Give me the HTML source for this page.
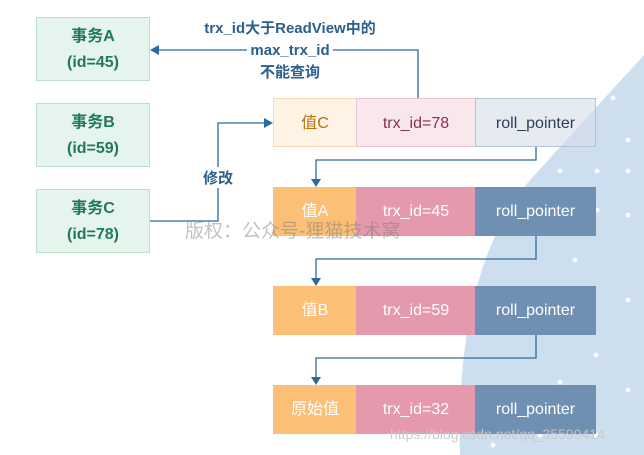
<!DOCTYPE html>
<html><head><style>
body{margin:0;width:644px;height:455px;background:#fff;position:relative;overflow:hidden;font-family:"Liberation Sans","Noto Sans CJK SC",sans-serif}
.t{position:absolute;left:36px;width:114px;height:64px;background:#e6f4ee;border:1px solid #b9e0cd;box-sizing:border-box;color:#1f7a5a;font-size:16px;font-weight:bold;text-align:center;line-height:26px;padding-top:6px}
.c{position:absolute;height:49px;line-height:49px;text-align:center;font-size:16px;box-sizing:border-box}
.l{position:absolute;color:#2b5f8c;font-size:15px;font-weight:bold;text-align:center}
</style></head><body>
<svg width="644" height="455" style="position:absolute;left:0;top:0">
<path d="M644,55 L530,180 Q455,270 460,455 L644,455 Z" fill="#cddfee"/>
<g fill="#fff" opacity="0.9">
<circle cx="613" cy="83" r="2.5"/><circle cx="613" cy="98" r="2.5"/><circle cx="628" cy="140" r="2.5"/><circle cx="560" cy="171" r="2.5"/><circle cx="597" cy="171" r="2.5"/><circle cx="628" cy="171" r="2.5"/><circle cx="597" cy="210" r="2.5"/><circle cx="628" cy="215" r="2.5"/><circle cx="575" cy="260" r="2.5"/><circle cx="628" cy="300" r="2.5"/><circle cx="596" cy="355" r="2.5"/><circle cx="560" cy="382" r="2.5"/><circle cx="628" cy="390" r="2.5"/><circle cx="596" cy="435" r="2.5"/><circle cx="493" cy="445" r="2.5"/><circle cx="540" cy="435" r="2.5"/>
</g>
<g stroke="#2b6aa0" stroke-width="1.3" fill="none">
<polyline points="418,98 418,50 156,50"/>
<polyline points="150,221 218,221 218,123 266,123"/>
<polyline points="536,147 536,160 316,160 316,180"/>
<polyline points="536,236 536,259 316,259 316,280"/>
<polyline points="536,335 536,358 316,358 316,379"/>
</g>
<g fill="#2b6aa0">
<polygon points="150,50 159,45 159,55"/>
<polygon points="273,123 264,118 264,128"/>
<polygon points="316,187 311,179 321,179"/>
<polygon points="316,286 311,278 321,278"/>
<polygon points="316,385 311,377 321,377"/>
</g>
</svg>
<div class="t" style="top:17px">事务A<br>(id=45)</div>
<div class="t" style="top:103px">事务B<br>(id=59)</div>
<div class="t" style="top:189px">事务C<br>(id=78)</div>
<div class="l" style="left:190px;top:18px;width:200px;line-height:22px"><span style="background:#fff">trx_id大于ReadView中的</span><br><span style="background:#fff;padding:0 3px">max_trx_id</span><br><span style="background:#fff">不能查询</span></div>
<div class="l" style="left:200px;top:167px;width:36px;background:#fff">修改</div>
<div class="c" style="left:273px;top:98px;width:84px;background:#fff3e6;border:1px solid #fcd9b0;color:#b5730a">值C</div>
<div class="c" style="left:356px;top:98px;width:120px;background:#f9e7ee;border:1px solid #efc3d0;color:#8a3050">trx_id=78</div>
<div class="c" style="left:475px;top:98px;width:121px;background:rgba(214,222,233,0.6);border:1px solid #b5c3d4;color:#2d3e55">roll_pointer</div>
<div class="c" style="left:273px;top:187px;width:84px;background:#fbbf76;color:#fff">值A</div>
<div class="c" style="left:356px;top:187px;width:120px;background:#e499ad;color:#fff">trx_id=45</div>
<div class="c" style="left:475px;top:187px;width:121px;background:#7090b3;color:#fff">roll_pointer</div>
<div class="c" style="left:273px;top:286px;width:84px;background:#fbbf76;color:#fff">值B</div>
<div class="c" style="left:356px;top:286px;width:120px;background:#e499ad;color:#fff">trx_id=59</div>
<div class="c" style="left:475px;top:286px;width:121px;background:#7090b3;color:#fff">roll_pointer</div>
<div class="c" style="left:273px;top:385px;width:84px;background:#fbbf76;color:#fff">原始值</div>
<div class="c" style="left:356px;top:385px;width:120px;background:#e499ad;color:#fff">trx_id=32</div>
<div class="c" style="left:475px;top:385px;width:121px;background:#7090b3;color:#fff">roll_pointer</div>
<div style="position:absolute;left:185px;top:216px;font-size:19px;color:rgba(120,120,120,0.45)">版权：公众号-狸猫技术窝</div>
<div style="position:absolute;left:390px;top:426px;font-size:14px;color:rgba(200,200,200,0.9)">https://blog.csdn.net/qq_35599414</div>
</body></html>
